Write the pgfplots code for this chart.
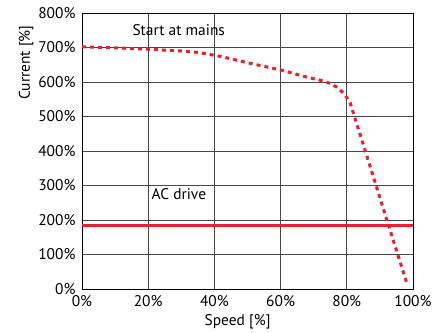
\documentclass[border=0pt]{standalone}
\usepackage{pgfplots}
\pgfplotsset{compat=1.18}
\usepackage{fontspec}
\setmainfont{PT Sans}
\definecolor{cred}{RGB}{232,32,44}
\definecolor{gridc}{RGB}{70,70,70}
\begin{document}
\begin{tikzpicture}
\path (-82bp,-43bp) rectangle (362bp,289bp);
\begin{axis}[
  scale only axis,
  width=331bp, height=276bp,
  xmin=0, xmax=100, ymin=0, ymax=800,
  xtick={0,20,40,60,80,100},
  ytick={0,100,...,800},
  major tick length=0pt,
  grid=major,
  major grid style={gridc, line width=0.9bp},
  axis line style={black, line width=0.9bp},
  font=\fontsize{15.5}{18}\selectfont,
  /pgf/number format/assume math mode=true,
  xticklabel={\pgfmathprintnumber{\tick}\%},
  yticklabel={\pgfmathprintnumber{\tick}\%},
  xticklabel style={yshift=-3bp},
  yticklabel style={xshift=-3bp},
  xlabel={Speed [\%]},
  ylabel={Current [\%]},
  xlabel style={at={(ticklabel cs:0.47)}, yshift=-1bp},
  ylabel style={at={(ticklabel cs:0.82)}, yshift=-2bp},
  clip=false,
]
\addplot[cred, line width=3bp, dash pattern=on 4bp off 4bp] coordinates {
(0,702) (10,699) (20,695) (30,690) (35,686) (42,674) (50,656) (60,635)
(68,614) (72,605) (75,596) (77,585) (79,568) (80,555) (81,540)
(86.9,360) (92.6,185) (98.2,15)
};
\addplot[cred, line width=3.2bp] coordinates {(0,185) (100,185)};
\node[anchor=west, inner sep=0pt] at (axis cs:15.2,750) {Start at mains};
\node[anchor=west, inner sep=0pt] at (axis cs:21,275) {AC drive};
\end{axis}
\end{tikzpicture}
\end{document}
